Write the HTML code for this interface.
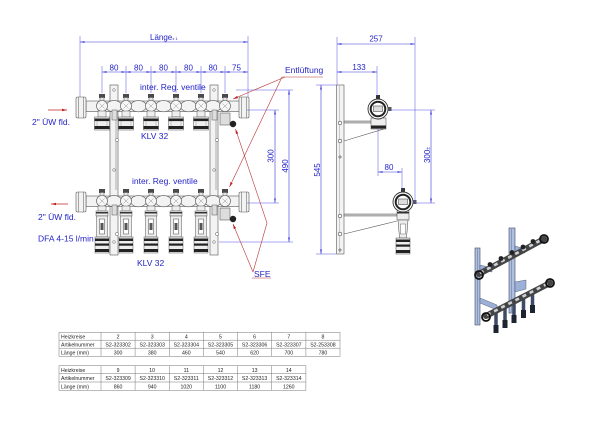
<!DOCTYPE html>
<html><head><meta charset="utf-8">
<style>
html,body{margin:0;padding:0;background:#fff;}
svg{display:block;}
text{font-family:"Liberation Sans",Arial,sans-serif;}
.d{fill:#2424c8;font-size:8px;}
.l{fill:#2424c8;font-size:8.5px;}
.dl{stroke:#3a3ad8;stroke-width:0.6;fill:none;}
.ex{stroke:#5050e0;stroke-width:0.5;fill:none;}
.g{fill:#f3f3f3;stroke:#555;stroke-width:0.6;}
.t{font-size:5.2px;fill:#222;}
.tl{stroke:#777;stroke-width:0.5;fill:none;}
.r{stroke:#b83535;stroke-width:0.6;fill:none;}
</style></head>
<body>
<svg width="600" height="425" viewBox="0 0 600 425" xmlns="http://www.w3.org/2000/svg">
<defs>
<marker id="a" viewBox="0 0 10 4" refX="10" refY="2" markerWidth="4.5" markerHeight="1.8" markerUnits="userSpaceOnUse" orient="auto-start-reverse"><path d="M0,0L10,2L0,4z" fill="#3333dd"/></marker>
<marker id="ra" viewBox="0 0 10 5" refX="10" refY="2.5" markerWidth="5" markerHeight="2.6" markerUnits="userSpaceOnUse" orient="auto"><path d="M0,0L10,2.5L0,5z" fill="#c02020"/></marker>
<g id="vt">
  <rect x="-3" y="-12" width="6" height="4" fill="#4a4a4a"/>
  <rect x="-2" y="-8.5" width="4" height="3.5" fill="#e6e6e6" stroke="#555" stroke-width="0.5"/>
  <circle r="5.5" fill="#f6f6f6" stroke="#555" stroke-width="0.6"/>
  <path d="M-2.5,-2.5L2.5,2.5M-2.5,2.5L2.5,-2.5" stroke="#777" stroke-width="0.4"/>
</g>
<g id="klv">
  <rect x="-4" y="5" width="8" height="6" fill="#eee" stroke="#555" stroke-width="0.5"/>
  <rect x="-7.5" y="11" width="15" height="13" fill="#eee" stroke="#555" stroke-width="0.5"/>
  <rect x="-7.5" y="12.5" width="15" height="2.6" fill="#222"/>
  <rect x="-7.5" y="20" width="15" height="3" fill="#222"/>
  <line x1="-5" y1="15" x2="-5" y2="20" stroke="#888" stroke-width="0.4"/>
  <line x1="5" y1="15" x2="5" y2="20" stroke="#888" stroke-width="0.4"/>
</g>
<g id="fm">
  <rect x="-4" y="5" width="8" height="5" fill="#eee" stroke="#555" stroke-width="0.5"/>
  <rect x="-6" y="10" width="12" height="5" fill="#eee" stroke="#555" stroke-width="0.5"/>
  <rect x="-6" y="11" width="12" height="1.5" fill="#333"/>
  <rect x="-5.5" y="15" width="11" height="21" fill="#eee" stroke="#555" stroke-width="0.5"/>
  <rect x="-2.5" y="18" width="5" height="15" fill="#fff" stroke="#444" stroke-width="0.5"/>
  <rect x="-1.5" y="22" width="3" height="7" fill="#555"/>
  <rect x="-7" y="36" width="14" height="16" fill="#eee" stroke="#555" stroke-width="0.5"/>
  <rect x="-7" y="37.5" width="14" height="2.5" fill="#222"/>
  <rect x="-7" y="42.5" width="14" height="2.2" fill="#222"/>
  <rect x="-7" y="48" width="14" height="3" fill="#222"/>
</g>
<g id="sv">
  <circle r="10" fill="#fff" stroke="#333" stroke-width="0.9"/>
  <circle r="7.3" fill="#fff" stroke="#222" stroke-width="2"/>
  <rect x="-4.5" y="-3" width="9" height="5.5" fill="#ddd" stroke="#333" stroke-width="0.5"/>
  <rect x="-2" y="-14" width="4" height="4" fill="#333"/>
  <rect x="9.5" y="-2" width="4" height="4" fill="#555"/>
</g>
</defs>

<!-- ===== FRONT VIEW : rails ===== -->
<rect x="110" y="85" width="8" height="170" class="g"/>
<rect x="210" y="85" width="8" height="170" class="g"/>
<line x1="116" y1="120" x2="116" y2="190" stroke="#666" stroke-width="0.5"/>
<line x1="216" y1="120" x2="216" y2="190" stroke="#666" stroke-width="0.5"/>
<g fill="#fff" stroke="#555" stroke-width="0.5">
<circle cx="114" cy="90" r="1.3"/><circle cx="214" cy="90" r="1.3"/>
<circle cx="114" cy="170" r="1.3"/><circle cx="214" cy="170" r="1.3"/>
<circle cx="114" cy="242" r="1.3"/><circle cx="214" cy="242" r="1.3"/>
<circle cx="117" cy="140" r="1.6"/><circle cx="217" cy="140" r="1.6"/>
<circle cx="117" cy="234" r="1.6"/><circle cx="217" cy="234" r="1.6"/>
</g>

<!-- top manifold -->
<rect x="86" y="101" width="154" height="10.5" class="g"/>
<g class="g"><ellipse cx="114" cy="106.2" rx="8" ry="5.6"/><ellipse cx="138.5" cy="106.2" rx="8" ry="5.6"/><ellipse cx="163.5" cy="106.2" rx="8" ry="5.6"/><ellipse cx="188.5" cy="106.2" rx="8" ry="5.6"/><ellipse cx="213" cy="106.2" rx="8" ry="5.6"/></g>
<rect x="76" y="97" width="10" height="21" rx="1.5" class="g"/>
<line x1="78.5" y1="97" x2="78.5" y2="118" stroke="#555" stroke-width="0.5"/><line x1="83.5" y1="97" x2="83.5" y2="118" stroke="#555" stroke-width="0.5"/>
<rect x="239" y="97" width="10" height="21" rx="1.5" class="g"/>
<line x1="241.5" y1="97" x2="241.5" y2="118" stroke="#555" stroke-width="0.5"/><line x1="246.5" y1="97" x2="246.5" y2="118" stroke="#555" stroke-width="0.5"/>
<use href="#vt" x="102" y="106"/><use href="#klv" x="102" y="106"/>
<use href="#vt" x="126" y="106"/><use href="#klv" x="126" y="106"/>
<use href="#vt" x="151" y="106"/><use href="#klv" x="151" y="106"/>
<use href="#vt" x="176" y="106"/><use href="#klv" x="176" y="106"/>
<use href="#vt" x="201" y="106"/><use href="#klv" x="201" y="106"/>
<use href="#vt" x="225" y="106"/>
<rect x="220" y="113" width="10" height="12" fill="#ddd" stroke="#444" stroke-width="0.5"/>
<circle cx="233" cy="124" r="3.2" fill="#222"/>
<rect x="112" y="110" width="5" height="10" fill="#ddd" stroke="#555" stroke-width="0.5"/>
<rect x="212" y="110" width="5" height="10" fill="#ddd" stroke="#555" stroke-width="0.5"/>

<!-- lower manifold -->
<rect x="86" y="196" width="154" height="10.5" class="g"/>
<g class="g"><ellipse cx="114" cy="201.2" rx="8" ry="5.6"/><ellipse cx="138.5" cy="201.2" rx="8" ry="5.6"/><ellipse cx="163.5" cy="201.2" rx="8" ry="5.6"/><ellipse cx="188.5" cy="201.2" rx="8" ry="5.6"/><ellipse cx="213" cy="201.2" rx="8" ry="5.6"/></g>
<rect x="76" y="192" width="10" height="20" rx="1.5" class="g"/>
<line x1="78.5" y1="192" x2="78.5" y2="212" stroke="#555" stroke-width="0.5"/><line x1="83.5" y1="192" x2="83.5" y2="212" stroke="#555" stroke-width="0.5"/>
<rect x="239" y="192" width="10" height="20" rx="1.5" class="g"/>
<line x1="241.5" y1="192" x2="241.5" y2="212" stroke="#555" stroke-width="0.5"/><line x1="246.5" y1="192" x2="246.5" y2="212" stroke="#555" stroke-width="0.5"/>
<use href="#vt" x="102" y="201"/><use href="#fm" x="102" y="201"/>
<use href="#vt" x="126" y="201"/><use href="#fm" x="126" y="201"/>
<use href="#vt" x="151" y="201"/><use href="#fm" x="151" y="201"/>
<use href="#vt" x="176" y="201"/><use href="#fm" x="176" y="201"/>
<use href="#vt" x="201" y="201"/><use href="#fm" x="201" y="201"/>
<use href="#vt" x="225" y="201"/>
<rect x="220" y="208" width="10" height="12" fill="#ddd" stroke="#444" stroke-width="0.5"/>
<circle cx="233" cy="219" r="3.2" fill="#222"/>
<rect x="112" y="205" width="5" height="10" fill="#ddd" stroke="#555" stroke-width="0.5"/>
<rect x="212" y="205" width="5" height="10" fill="#ddd" stroke="#555" stroke-width="0.5"/>

<!-- front dims -->
<line class="ex" x1="80" y1="36" x2="80" y2="97"/>
<line class="ex" x1="248" y1="36" x2="248" y2="97"/>
<line class="dl" x1="80" y1="42" x2="248" y2="42" marker-start="url(#a)" marker-end="url(#a)"/>
<text class="d" x="150" y="40" font-size="7.8">Länge<tspan font-size="4">± 1</tspan></text>
<g class="ex">
<line x1="102" y1="66" x2="102" y2="93"/><line x1="126" y1="66" x2="126" y2="93"/><line x1="151" y1="66" x2="151" y2="93"/><line x1="176" y1="66" x2="176" y2="93"/><line x1="201" y1="66" x2="201" y2="93"/><line x1="225" y1="66" x2="225" y2="93"/>
</g>
<g class="dl">
<line x1="102" y1="72" x2="126" y2="72" marker-start="url(#a)" marker-end="url(#a)"/>
<line x1="126" y1="72" x2="151" y2="72" marker-start="url(#a)" marker-end="url(#a)"/>
<line x1="151" y1="72" x2="176" y2="72" marker-start="url(#a)" marker-end="url(#a)"/>
<line x1="176" y1="72" x2="201" y2="72" marker-start="url(#a)" marker-end="url(#a)"/>
<line x1="201" y1="72" x2="225" y2="72" marker-start="url(#a)" marker-end="url(#a)"/>
<line x1="225" y1="72" x2="248" y2="72" marker-start="url(#a)" marker-end="url(#a)"/>
</g>
<g class="d" text-anchor="middle">
<text x="114" y="70.5">80</text><text x="138.5" y="70.5">80</text><text x="163.5" y="70.5">80</text><text x="188.5" y="70.5">80</text><text x="213" y="70.5">80</text><text x="236.5" y="70.5">75</text>
</g>
<line class="ex" x1="247" y1="110" x2="279" y2="110"/>
<line class="ex" x1="247" y1="203" x2="279" y2="203"/>
<line class="dl" x1="275" y1="110" x2="275" y2="203" marker-start="url(#a)" marker-end="url(#a)"/>
<text class="d" text-anchor="middle" transform="translate(273.5,156) rotate(-90)">300</text>
<line class="ex" x1="236" y1="90" x2="293" y2="90"/>
<line class="ex" x1="219" y1="242" x2="293" y2="242"/>
<line class="dl" x1="289" y1="90" x2="289" y2="242" marker-start="url(#a)" marker-end="url(#a)"/>
<text class="d" text-anchor="middle" transform="translate(288,166) rotate(-90)">490</text>

<!-- front labels -->
<text class="l" x="140" y="90">inter. Reg. ventile</text>
<text class="l" x="141" y="139" font-size="9">KLV 32</text>
<text class="l" x="132" y="184">inter. Reg. ventile</text>
<text class="l" x="137" y="266" font-size="9">KLV 32</text>
<text class="l" x="32" y="125" font-size="9">2" ÜW fld.</text>
<text class="l" x="38" y="220" font-size="9">2" ÜW fld.</text>
<text class="l" x="38" y="241.5">DFA 4-15 l/min</text>
<line x1="48" y1="110" x2="67" y2="110" stroke="#c02020" stroke-width="0.8" marker-end="url(#ra)"/>
<line x1="68" y1="204" x2="51" y2="204" stroke="#c02020" stroke-width="0.8" marker-end="url(#ra)"/>

<!-- red leaders -->
<text class="l" x="285" y="73">Entlüftung</text>
<line class="r" x1="282" y1="77" x2="323" y2="77"/>
<line class="r" x1="285" y1="77" x2="233" y2="99" marker-end="url(#ra)"/>
<line class="r" x1="282" y1="77" x2="229.5" y2="187" marker-end="url(#ra)"/>
<text class="l" x="254" y="277">SFE</text>
<line class="r" x1="252" y1="278" x2="271" y2="278"/>
<polyline class="r" points="253,272 267,223 235.5,129" marker-end="url(#ra)"/>
<line class="r" x1="253" y1="272" x2="233" y2="224" marker-end="url(#ra)"/>

<!-- ===== SIDE VIEW ===== -->
<rect x="336.5" y="85" width="7.5" height="169" class="g"/>
<line x1="339.5" y1="86" x2="339.5" y2="253" stroke="#888" stroke-width="0.4"/>
<g fill="#fff" stroke="#444" stroke-width="0.6">
<circle cx="340" cy="123" r="1.8"/><circle cx="340" cy="141" r="1.8"/><circle cx="340" cy="157" r="1.1"/>
<circle cx="340" cy="216" r="1.8"/><circle cx="340" cy="234" r="1.8"/><circle cx="340" cy="250" r="1.1"/>
</g>
<rect x="344" y="121" width="28" height="2" fill="#ccc" stroke="#555" stroke-width="0.5"/>
<line x1="344" y1="141" x2="384" y2="129" stroke="#555" stroke-width="0.6"/>
<rect x="371" y="118" width="15" height="11" fill="#eee" stroke="#444" stroke-width="0.5"/>
<rect x="371" y="125.5" width="15" height="3" fill="#222"/>
<use href="#sv" x="378" y="109"/>
<rect x="344" y="214" width="53" height="2" fill="#ccc" stroke="#555" stroke-width="0.5"/>
<line x1="344" y1="234" x2="397" y2="221" stroke="#555" stroke-width="0.6"/>
<rect x="397" y="211" width="12" height="9" fill="#eee" stroke="#444" stroke-width="0.5"/>
<rect x="397" y="212" width="12" height="1.5" fill="#333"/>
<polygon points="398,220 408,220 406.5,238 399.5,238" fill="#eee" stroke="#444" stroke-width="0.5"/>
<rect x="400.5" y="224" width="5" height="10" fill="#fff" stroke="#444" stroke-width="0.4"/>
<rect x="396" y="238" width="14" height="16" fill="#eee" stroke="#444" stroke-width="0.5"/>
<rect x="396" y="239.5" width="14" height="2.5" fill="#222"/>
<rect x="396" y="244.5" width="14" height="2.2" fill="#222"/>
<rect x="396" y="250" width="14" height="3" fill="#222"/>
<use href="#sv" x="403" y="202"/>

<line class="ex" x1="337" y1="37" x2="337" y2="85"/>
<line class="ex" x1="415" y1="37" x2="415" y2="203"/>
<line class="dl" x1="337" y1="44" x2="415" y2="44" marker-start="url(#a)" marker-end="url(#a)"/>
<text class="d" x="376" y="41.5" text-anchor="middle">257</text>
<line class="ex" x1="377" y1="66" x2="377" y2="96"/>
<line class="dl" x1="337" y1="72" x2="377" y2="72" marker-start="url(#a)" marker-end="url(#a)"/>
<text class="d" x="359" y="70" text-anchor="middle">133</text>
<line class="ex" x1="316" y1="85" x2="336" y2="85"/>
<line class="ex" x1="316" y1="254" x2="336" y2="254"/>
<line class="dl" x1="321" y1="85" x2="321" y2="254" marker-start="url(#a)" marker-end="url(#a)"/>
<text class="d" text-anchor="middle" transform="translate(320,170) rotate(-90)">545</text>
<line class="ex" x1="378" y1="129" x2="378" y2="176"/>
<line class="ex" x1="402" y1="168" x2="402" y2="190"/>
<line class="dl" x1="378" y1="172" x2="402" y2="172" marker-start="url(#a)" marker-end="url(#a)"/>
<text class="d" x="389" y="170" text-anchor="middle">80</text>
<line class="ex" x1="390" y1="110" x2="435" y2="110"/>
<line class="ex" x1="413" y1="203" x2="435" y2="203"/>
<line class="dl" x1="431" y1="110" x2="431" y2="203" marker-start="url(#a)" marker-end="url(#a)"/>
<text class="d" text-anchor="middle" transform="translate(430,155) rotate(-90)">300<tspan font-size="5">±</tspan></text>

<!-- ===== 3D VIEW ===== -->
<rect x="509" y="228" width="6" height="85" fill="#aebfdf" stroke="#3d4660" stroke-width="0.6"/>
<line x1="511.5" y1="229" x2="511.5" y2="312" stroke="#6a7ba3" stroke-width="0.6"/>
<rect x="475" y="248" width="5" height="77" fill="#aebfdf" stroke="#3d4660" stroke-width="0.6"/>
<line x1="477.3" y1="249" x2="477.3" y2="324" stroke="#6a7ba3" stroke-width="0.6"/>
<polygon points="480,265 492,268 492,272 480,270" fill="#9db0d8" stroke="#3d4660" stroke-width="0.4"/>
<polygon points="515,246 525,249 525,253 515,251" fill="#9db0d8" stroke="#3d4660" stroke-width="0.4"/>
<polygon points="480,298 497,305 497,310 480,303" fill="#9db0d8" stroke="#3d4660" stroke-width="0.4"/>
<polygon points="515,282 526,280 526,289 515,292" fill="#9db0d8" stroke="#3d4660" stroke-width="0.4"/>
<line x1="479" y1="274" x2="544" y2="239" stroke="#444" stroke-width="6" stroke-linecap="round"/>
<line x1="480" y1="273" x2="543" y2="239" stroke="#cdd2da" stroke-width="2.6" stroke-dasharray="4 4"/>
<g fill="#222">
<circle cx="490" cy="264.5" r="2.4"/><circle cx="501" cy="258.5" r="2.4"/><circle cx="512" cy="252.5" r="2.4"/><circle cx="523" cy="247" r="2.4"/><circle cx="533" cy="241.5" r="2.4"/>
</g>
<circle cx="479" cy="275" r="4" fill="none" stroke="#111" stroke-width="1.8"/>
<circle cx="544" cy="239" r="4" fill="none" stroke="#111" stroke-width="1.8"/>
<g stroke="#3e4a66" stroke-width="3.5" stroke-linecap="round">
<line x1="496" y1="311" x2="496" y2="329"/><line x1="505" y1="306" x2="505" y2="324"/><line x1="514" y1="301" x2="514" y2="319"/><line x1="523.5" y1="296" x2="523.5" y2="314"/><line x1="532.5" y1="291" x2="532.5" y2="309"/>
</g>
<g fill="#1e2330">
<rect x="493.5" y="325" width="5" height="8"/><rect x="502.5" y="320" width="5" height="8"/><rect x="511.5" y="315" width="5" height="8"/><rect x="521" y="310" width="5" height="8"/><rect x="530" y="305" width="5" height="8"/>
</g>
<line x1="486" y1="316" x2="550" y2="283" stroke="#444" stroke-width="6" stroke-linecap="round"/>
<line x1="487" y1="315" x2="549" y2="283" stroke="#cdd2da" stroke-width="2.6" stroke-dasharray="4 4"/>
<circle cx="486" cy="317" r="4" fill="none" stroke="#111" stroke-width="1.8"/>
<circle cx="550" cy="283" r="4" fill="none" stroke="#111" stroke-width="1.8"/>

<!-- ===== TABLES ===== -->
<g class="tl">
<rect x="59" y="332.3" width="281" height="24"/>
<line x1="59" y1="340.2" x2="340" y2="340.2"/><line x1="59" y1="348.2" x2="340" y2="348.2"/>
<line x1="101" y1="332.3" x2="101" y2="356.3"/><line x1="135.1" y1="332.3" x2="135.1" y2="356.3"/><line x1="169.3" y1="332.3" x2="169.3" y2="356.3"/><line x1="203.4" y1="332.3" x2="203.4" y2="356.3"/><line x1="237.6" y1="332.3" x2="237.6" y2="356.3"/><line x1="271.7" y1="332.3" x2="271.7" y2="356.3"/><line x1="305.9" y1="332.3" x2="305.9" y2="356.3"/>
<rect x="59" y="365.7" width="246.9" height="24.6"/>
<line x1="59" y1="373.7" x2="305.9" y2="373.7"/><line x1="59" y1="382" x2="305.9" y2="382"/>
<line x1="101" y1="365.7" x2="101" y2="390.3"/><line x1="135.1" y1="365.7" x2="135.1" y2="390.3"/><line x1="169.3" y1="365.7" x2="169.3" y2="390.3"/><line x1="203.4" y1="365.7" x2="203.4" y2="390.3"/><line x1="237.6" y1="365.7" x2="237.6" y2="390.3"/><line x1="271.7" y1="365.7" x2="271.7" y2="390.3"/>
</g>
<g class="t">
<text x="61" y="338.3">Heizkreise</text><text x="61" y="346.3">Artikelnummer</text><text x="61" y="354.5">Länge (mm)</text>
<text x="61" y="371.8">Heizkreise</text><text x="61" y="380">Artikelnummer</text><text x="61" y="388.3">Länge (mm)</text>
</g>
<g class="t" text-anchor="middle">
<text x="118.1" y="338.3">2</text><text x="152.2" y="338.3">3</text><text x="186.3" y="338.3">4</text><text x="220.5" y="338.3">5</text><text x="254.6" y="338.3">6</text><text x="288.8" y="338.3">7</text><text x="322.9" y="338.3">8</text>
<text x="118.1" y="346.3">S2-323302</text><text x="152.2" y="346.3">S2-323303</text><text x="186.3" y="346.3">S2-323304</text><text x="220.5" y="346.3">S2-323305</text><text x="254.6" y="346.3">S2-323306</text><text x="288.8" y="346.3">S2-323307</text><text x="322.9" y="346.3">S2-253308</text>
<text x="118.1" y="354.5">300</text><text x="152.2" y="354.5">380</text><text x="186.3" y="354.5">460</text><text x="220.5" y="354.5">540</text><text x="254.6" y="354.5">620</text><text x="288.8" y="354.5">700</text><text x="322.9" y="354.5">780</text>
<text x="118.1" y="371.8">9</text><text x="152.2" y="371.8">10</text><text x="186.3" y="371.8">11</text><text x="220.5" y="371.8">12</text><text x="254.6" y="371.8">13</text><text x="288.8" y="371.8">14</text>
<text x="118.1" y="380">S2-323309</text><text x="152.2" y="380">S2-323310</text><text x="186.3" y="380">S2-323311</text><text x="220.5" y="380">S2-323312</text><text x="254.6" y="380">S2-323313</text><text x="288.8" y="380">S2-323314</text>
<text x="118.1" y="388.3">860</text><text x="152.2" y="388.3">940</text><text x="186.3" y="388.3">1020</text><text x="220.5" y="388.3">1100</text><text x="254.6" y="388.3">1180</text><text x="288.8" y="388.3">1260</text>
</g>
</svg>
</body></html>
